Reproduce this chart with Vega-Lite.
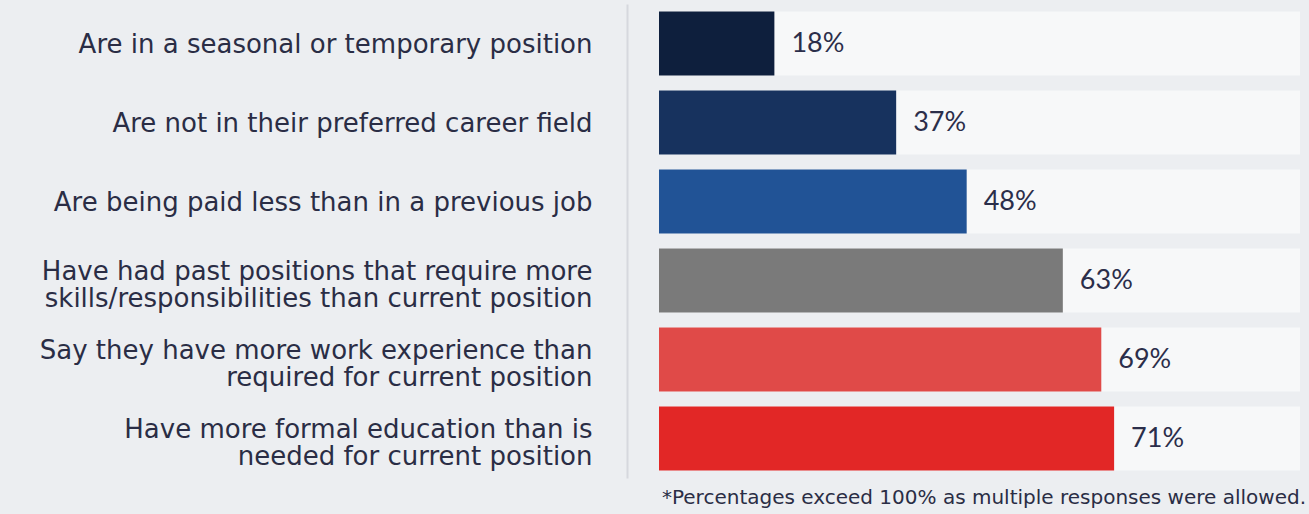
{
  "$schema": "https://vega.github.io/schema/vega-lite/v6.json",
  "width": 641,
  "height": 474,
  "autosize": {"type": "none"},
  "padding": {"left": 659, "right": 9, "top": 4, "bottom": 36},
  "background": "#eceef1",
  "config": {"view": {"stroke": null}},
  "title": {
    "text": "*Percentages exceed 100% as multiple responses were allowed.",
    "orient": "bottom",
    "anchor": "end",
    "frame": "group",
    "font": "DejaVu Sans",
    "fontSize": 20,
    "fontWeight": "normal",
    "color": "#2a2d45",
    "offset": 10,
    "dx": 6
  },
  "data": {
    "values": [
      {"label": "Are in a seasonal or temporary position", "value": 0.18},
      {"label": "Are not in their preferred career field", "value": 0.37},
      {"label": "Are being paid less than in a previous job", "value": 0.48},
      {"label": "Have had past positions that require more|skills/responsibilities than current position", "value": 0.63},
      {"label": "Say they have more work experience than|required for current position", "value": 0.69},
      {"label": "Have more formal education than is|needed for current position", "value": 0.71}
    ]
  },
  "encoding": {
    "y": {
      "field": "label",
      "type": "nominal",
      "sort": null,
      "scale": {"paddingInner": 0.19, "paddingOuter": 0.095},
      "axis": {
        "title": null,
        "ticks": false,
        "offset": 32,
        "domainColor": "#d6d8de",
        "domainWidth": 2,
        "labelPadding": 35,
        "labelExpr": "split(datum.label, '|')",
        "labelOffset": {"condition": {"test": "indexof(datum.value, '|') >= 0", "value": -9}, "value": 1},
        "labelFont": "DejaVu Sans",
        "labelFontSize": 26,
        "labelLineHeight": 27,
        "labelColor": "#2a2d45",
        "labelLimit": 700
      }
    }
  },
  "layer": [
    {
      "mark": {"type": "bar", "color": "#f8f8f9", "opacity": 0.9},
      "encoding": {
        "x": {"datum": 1, "type": "quantitative", "scale": {"domain": [0, 1]}, "axis": null}
      }
    },
    {
      "mark": {"type": "bar"},
      "encoding": {
        "x": {"field": "value", "type": "quantitative", "scale": {"domain": [0, 1]}, "axis": null},
        "color": {
          "field": "label",
          "type": "nominal",
          "sort": null,
          "legend": null,
          "scale": {"range": ["#0e1f3d", "#17325e", "#215396", "#7a7a7a", "#e04a48", "#e22726"]}
        }
      }
    },
    {
      "mark": {"type": "text", "align": "left", "baseline": "middle", "dx": 17, "font": "Lato", "fontSize": 27, "color": "#2b2e4a"},
      "encoding": {
        "x": {"field": "value", "type": "quantitative"},
        "text": {"field": "value", "type": "quantitative", "format": ".0%"}
      }
    }
  ]
}
